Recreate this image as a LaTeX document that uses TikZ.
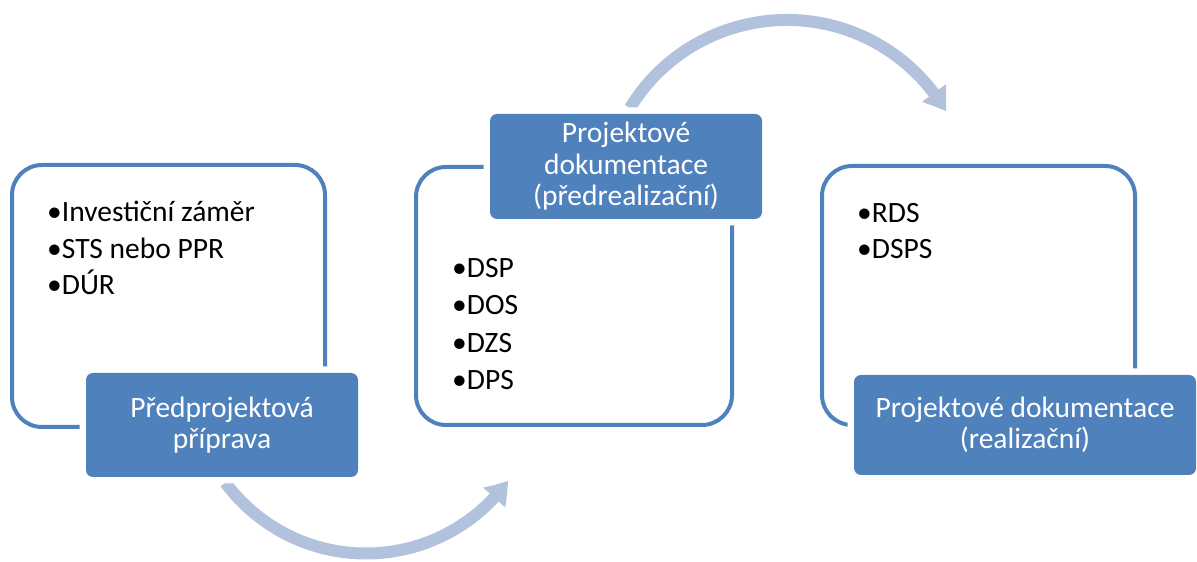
\documentclass[tikz,border=0pt]{standalone}
\usepackage{fontspec}
\setmainfont{Carlito}
\usetikzlibrary{arrows.meta,bending}
\definecolor{accent}{HTML}{4F81BD}
\definecolor{flowarrow}{HTML}{B2C1DC}
\begin{document}
\begin{tikzpicture}[x=1pt,y=1pt,
  frame/.style={draw=accent, line width=4pt, rounded corners=30pt, inner sep=0pt},
  title/.style={fill=accent, rounded corners=7pt, text=white, align=center, inner sep=0pt,
    font=\fontsize{29.5}{31.5}\selectfont,
    preaction={draw=white, line width=13pt, rounded corners=7pt}},
  item/.style={anchor=base west, inner sep=0pt, font=\fontsize{29.5}{30}\selectfont},
  flow/.style={draw=flowarrow, line width=12pt, -{Triangle[length=22pt,width=28pt,bend]}}
]
\useasboundingbox (0,0) rectangle (1197,562);

% outlined stage frames
\node[frame, minimum width=313pt, minimum height=262pt] (f1) at (168.5,266) {};
\node[frame, minimum width=316pt, minimum height=258pt] (f2) at (574,266) {};
\node[frame, minimum width=313pt, minimum height=259pt] (f3) at (978.5,266.5) {};

% curved flow arrows between the stages
\coordinate (a1) at (225.3,79.4);
\draw[flow] (a1) arc[start angle=216.5, end angle=324.3, radius=175];
\coordinate (a2) at (629.9,453.9);
\draw[flow] (a2) arc[start angle=148.6, end angle=30.2, radius=184];

% stage titles
\node[title, minimum width=272pt, minimum height=104pt] (t1) at (222,137)
  {Předprojektová\\příprava};
\node[title, minimum width=272pt, minimum height=105pt] (t2) at (626,395.5)
  {Projektové\\dokumentace\\(předrealizační)};
\node[title, minimum width=342pt, minimum height=100pt] (t3) at (1025,137)
  {Projektové dokumentace\\(realizační)};

% items of each stage
\node[item] (i11) at (47,340) {•Investiční záměr};
\node[item] (i12) at (47,303) {•STS nebo PPR};
\node[item] (i13) at (47,267) {•DÚR};

\node[item] (i21) at (452,284) {•DSP};
\node[item] (i22) at (452,247) {•DOS};
\node[item] (i23) at (452,209) {•DZS};
\node[item] (i24) at (452,172) {•DPS};

\node[item] (i31) at (857,339) {•RDS};
\node[item] (i32) at (857,303) {•DSPS};
\end{tikzpicture}
\end{document}
